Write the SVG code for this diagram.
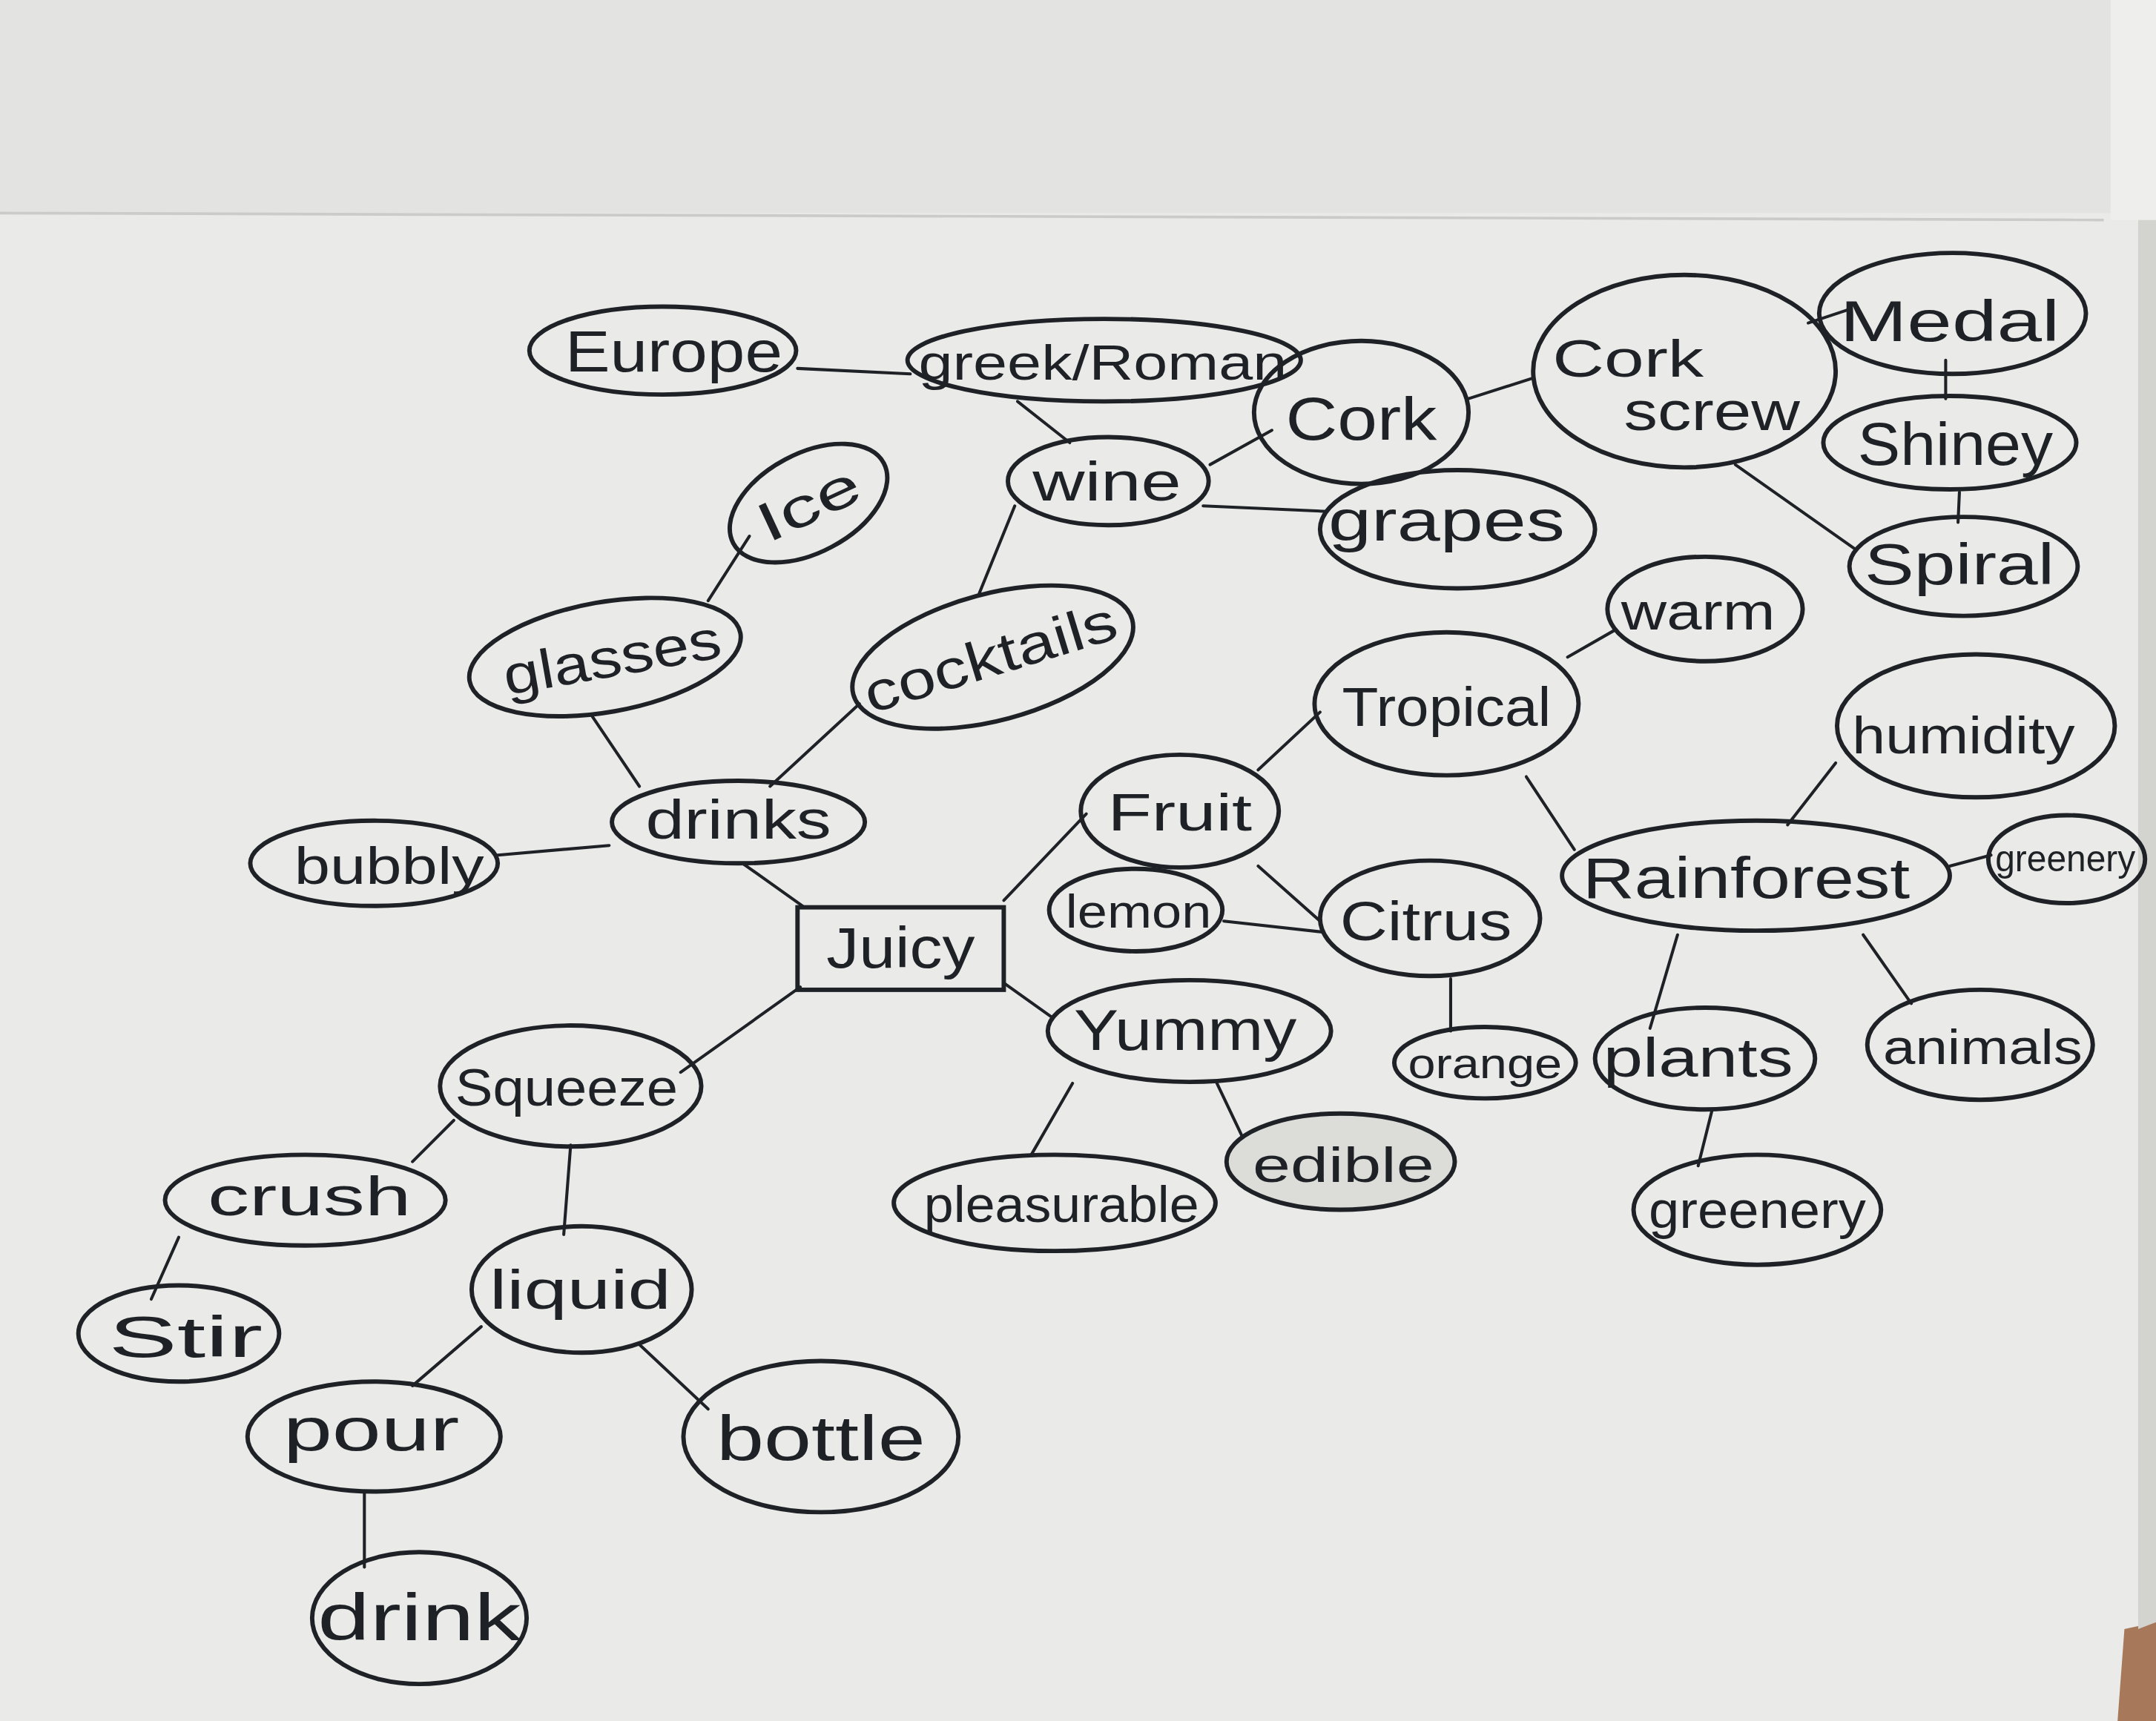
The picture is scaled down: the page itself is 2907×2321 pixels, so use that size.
<svg xmlns="http://www.w3.org/2000/svg" width="2907" height="2321" viewBox="0 0 2907 2321">
<style>
.n{fill:none;stroke:#1e2226;stroke-width:3.2}
.e line{stroke:#1e2226;stroke-width:2.2;stroke-linecap:round}
text{font-family:"Liberation Sans","DejaVu Sans",sans-serif;fill:#1e2226;text-anchor:middle}
</style>
<rect width="2907" height="2321" fill="#eaebe8"/>
<g transform="scale(1.854)">
<rect x="0" y="0" width="1568" height="155" fill="#e3e4e1"/>
<rect x="1535" y="0" width="33" height="160" fill="#eeefec"/>
<path d="M0 155 L1530 160" stroke="#cbccc9" stroke-width="2" fill="none"/>
<path d="M1540 1252 L1545 1185 L1568 1180 L1568 1252 Z" fill="#a7785a"/>
<path d="M1555 160 L1568 160 L1568 1180 L1555 1185 Z" fill="#d3d3d0"/>

<g id="connectors" class="e">
<line x1="580" y1="268" x2="662" y2="272"/>
<line x1="740" y1="292" x2="778" y2="322"/>
<line x1="880" y1="338" x2="925" y2="313"/>
<line x1="875" y1="368" x2="965" y2="372"/>
<line x1="1068" y1="290" x2="1115" y2="275"/>
<line x1="1315" y1="235" x2="1345" y2="225"/>
<line x1="1415" y1="262" x2="1415" y2="290"/>
<line x1="1425" y1="358" x2="1424" y2="380"/>
<line x1="1262" y1="338" x2="1350" y2="400"/>
<line x1="738" y1="368" x2="712" y2="432"/>
<line x1="545" y1="390" x2="515" y2="437"/>
<line x1="430" y1="520" x2="465" y2="572"/>
<line x1="625" y1="512" x2="560" y2="572"/>
<line x1="443" y1="615" x2="362" y2="622"/>
<line x1="540" y1="628" x2="585" y2="660"/>
<line x1="730" y1="655" x2="790" y2="592"/>
<line x1="730" y1="715" x2="765" y2="740"/>
<line x1="582" y1="718" x2="495" y2="780"/>
<line x1="915" y1="560" x2="960" y2="518"/>
<line x1="915" y1="630" x2="960" y2="670"/>
<line x1="890" y1="670" x2="962" y2="678"/>
<line x1="1055" y1="712" x2="1055" y2="750"/>
<line x1="1140" y1="478" x2="1175" y2="458"/>
<line x1="1110" y1="565" x2="1145" y2="618"/>
<line x1="1300" y1="600" x2="1335" y2="555"/>
<line x1="1418" y1="630" x2="1448" y2="622"/>
<line x1="1220" y1="680" x2="1200" y2="748"/>
<line x1="1355" y1="680" x2="1390" y2="730"/>
<line x1="1245" y1="808" x2="1235" y2="848"/>
<line x1="780" y1="788" x2="750" y2="840"/>
<line x1="885" y1="788" x2="905" y2="830"/>
<line x1="330" y1="815" x2="300" y2="845"/>
<line x1="415" y1="833" x2="410" y2="898"/>
<line x1="130" y1="900" x2="110" y2="945"/>
<line x1="350" y1="965" x2="300" y2="1008"/>
<line x1="465" y1="978" x2="515" y2="1025"/>
<line x1="265" y1="1085" x2="265" y2="1140"/>
</g>

<g id="europe"><ellipse class="n" cx="482" cy="255" rx="97" ry="32"/><text x="490" y="270" font-size="42" textLength="158" lengthAdjust="spacingAndGlyphs">Europe</text></g>
<g id="greek-roman"><ellipse class="n" cx="803" cy="262" rx="143" ry="30"/><text x="802" y="276" font-size="36" textLength="268" lengthAdjust="spacingAndGlyphs">greek/Roman</text></g>
<g id="cork"><ellipse class="n" cx="990" cy="300" rx="78" ry="52"/><text x="990" y="320" font-size="44" textLength="110" lengthAdjust="spacingAndGlyphs">Cork</text></g>
<g id="corkscrew"><ellipse class="n" cx="1225" cy="270" rx="110" ry="70"/><text x="1184" y="274" font-size="38" textLength="110" lengthAdjust="spacingAndGlyphs">Cork</text><text x="1245" y="313" font-size="40" textLength="128" lengthAdjust="spacingAndGlyphs">screw</text></g>
<g id="medal"><ellipse class="n" cx="1420" cy="228" rx="97" ry="44"/><text x="1418" y="248" font-size="42" textLength="160" lengthAdjust="spacingAndGlyphs">Medal</text></g>
<g id="shiney"><ellipse class="n" cx="1418" cy="322" rx="92" ry="34"/><text x="1422" y="338" font-size="44" textLength="142" lengthAdjust="spacingAndGlyphs">Shiney</text></g>
<g id="spiral"><ellipse class="n" cx="1428" cy="412" rx="83" ry="36"/><text x="1425" y="425" font-size="42" textLength="138" lengthAdjust="spacingAndGlyphs">Spiral</text></g>
<g id="wine"><ellipse class="n" cx="806" cy="350" rx="73" ry="32"/><text x="805" y="364" font-size="40" textLength="108" lengthAdjust="spacingAndGlyphs">wine</text></g>
<g id="grapes"><ellipse class="n" cx="1060" cy="385" rx="100" ry="43"/><text x="1052" y="393" font-size="42" textLength="172" lengthAdjust="spacingAndGlyphs">grapes</text></g>
<g id="ice"><ellipse class="n" cx="588" cy="366" rx="62" ry="36" transform="rotate(-28 588 366)"/><text x="588" y="380" font-size="40" textLength="78" lengthAdjust="spacingAndGlyphs" transform="rotate(-25 588 366)">Ice</text></g>
<g id="glasses"><ellipse class="n" cx="440" cy="478" rx="100" ry="40" transform="rotate(-10 440 478)"/><text x="445" y="492" font-size="40" textLength="160" lengthAdjust="spacingAndGlyphs" transform="rotate(-10 445 478)">glasses</text></g>
<g id="cocktails"><ellipse class="n" cx="722" cy="478" rx="105" ry="46" transform="rotate(-15 722 478)"/><text x="720" y="492" font-size="40" textLength="190" lengthAdjust="spacingAndGlyphs" transform="rotate(-17 720 478)">cocktails</text></g>
<g id="warm"><ellipse class="n" cx="1240" cy="443" rx="71" ry="38"/><text x="1235" y="458" font-size="38" textLength="112" lengthAdjust="spacingAndGlyphs">warm</text></g>
<g id="tropical"><ellipse class="n" cx="1052" cy="512" rx="96" ry="52"/><text x="1052" y="528" font-size="40" textLength="152" lengthAdjust="spacingAndGlyphs">Tropical</text></g>
<g id="humidity"><ellipse class="n" cx="1437" cy="528" rx="101" ry="52"/><text x="1428" y="548" font-size="38" textLength="162" lengthAdjust="spacingAndGlyphs">humidity</text></g>
<g id="drinks"><ellipse class="n" cx="537" cy="598" rx="92" ry="30"/><text x="537" y="610" font-size="40" textLength="135" lengthAdjust="spacingAndGlyphs">drinks</text></g>
<g id="bubbly"><ellipse class="n" cx="272" cy="628" rx="90" ry="31"/><text x="283" y="643" font-size="38" textLength="138" lengthAdjust="spacingAndGlyphs">bubbly</text></g>
<g id="fruit"><ellipse class="n" cx="858" cy="590" rx="72" ry="41"/><text x="858" y="604" font-size="38" textLength="105" lengthAdjust="spacingAndGlyphs">Fruit</text></g>
<g id="rainforest"><ellipse class="n" cx="1277" cy="637" rx="141" ry="40"/><text x="1270" y="653" font-size="42" textLength="238" lengthAdjust="spacingAndGlyphs">Rainforest</text></g>
<g id="greenery-right"><ellipse class="n" cx="1503" cy="625" rx="57" ry="32"/><text x="1502" y="634" font-size="27" textLength="102" lengthAdjust="spacingAndGlyphs">greenery</text></g>
<g id="lemon"><ellipse class="n" cx="826" cy="662" rx="63" ry="30"/><text x="828" y="675" font-size="34" textLength="106" lengthAdjust="spacingAndGlyphs">lemon</text></g>
<g id="citrus"><ellipse class="n" cx="1040" cy="668" rx="80" ry="42"/><text x="1037" y="684" font-size="40" textLength="125" lengthAdjust="spacingAndGlyphs">Citrus</text></g>
<g id="juicy"><rect class="n" x="580" y="660" width="150" height="60"/><text x="655" y="704" font-size="42" textLength="108" lengthAdjust="spacingAndGlyphs">Juicy</text></g>
<g id="yummy"><ellipse class="n" cx="865" cy="750" rx="103" ry="37"/><text x="862" y="764" font-size="42" textLength="162" lengthAdjust="spacingAndGlyphs">Yummy</text></g>
<g id="orange"><ellipse class="n" cx="1080" cy="773" rx="66" ry="26"/><text x="1080" y="784" font-size="31" textLength="112" lengthAdjust="spacingAndGlyphs">orange</text></g>
<g id="plants"><ellipse class="n" cx="1240" cy="770" rx="80" ry="37"/><text x="1235" y="783" font-size="40" textLength="138" lengthAdjust="spacingAndGlyphs">plants</text></g>
<g id="animals"><ellipse class="n" cx="1440" cy="760" rx="82" ry="40"/><text x="1442" y="774" font-size="36" textLength="145" lengthAdjust="spacingAndGlyphs">animals</text></g>
<g id="squeeze"><ellipse class="n" cx="415" cy="790" rx="95" ry="44"/><text x="412" y="804" font-size="38" textLength="162" lengthAdjust="spacingAndGlyphs">Squeeze</text></g>
<g id="crush"><ellipse class="n" cx="222" cy="873" rx="102" ry="33"/><text x="225" y="884" font-size="40" textLength="148" lengthAdjust="spacingAndGlyphs">crush</text></g>
<g id="edible"><ellipse class="n" cx="975" cy="845" rx="83" ry="35" style="fill:#dcddd9"/><text x="977" y="860" font-size="36" textLength="132" lengthAdjust="spacingAndGlyphs">edible</text></g>
<g id="pleasurable"><ellipse class="n" cx="767" cy="875" rx="117" ry="35"/><text x="772" y="889" font-size="37" textLength="200" lengthAdjust="spacingAndGlyphs">pleasurable</text></g>
<g id="greenery-lower"><ellipse class="n" cx="1278" cy="880" rx="90" ry="40"/><text x="1278" y="893" font-size="38" textLength="158" lengthAdjust="spacingAndGlyphs">greenery</text></g>
<g id="stir"><ellipse class="n" cx="130" cy="970" rx="73" ry="35"/><text x="135" y="987" font-size="42" textLength="112" lengthAdjust="spacingAndGlyphs">Stir</text></g>
<g id="liquid"><ellipse class="n" cx="423" cy="938" rx="80" ry="46"/><text x="422" y="952" font-size="40" textLength="132" lengthAdjust="spacingAndGlyphs">liquid</text></g>
<g id="pour"><ellipse class="n" cx="272" cy="1045" rx="92" ry="40"/><text x="270" y="1055" font-size="44" textLength="128" lengthAdjust="spacingAndGlyphs">pour</text></g>
<g id="bottle"><ellipse class="n" cx="597" cy="1045" rx="100" ry="55"/><text x="597" y="1062" font-size="46" textLength="152" lengthAdjust="spacingAndGlyphs">bottle</text></g>
<g id="drink"><ellipse class="n" cx="305" cy="1177" rx="78" ry="48"/><text x="305" y="1193" font-size="48" textLength="148" lengthAdjust="spacingAndGlyphs">drink</text></g>
</g>
</svg>
